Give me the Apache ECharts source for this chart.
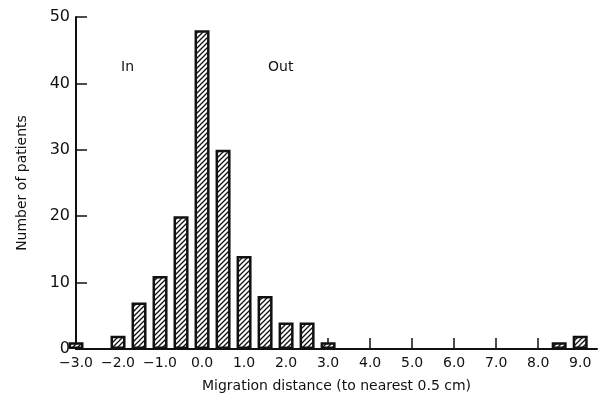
<!DOCTYPE html>
<html lang="en">
<head>
    <meta charset="UTF-8">
    <title>Migration distance</title>
    <script src="https://cdn.jsdelivr.net/npm/echarts@6/dist/echarts.min.js"></script>
    <style>
        body { margin: 0; background: #fff; }
        #chart { width: 607px; height: 407px; }
    </style>
</head>
<body>
    <div id="chart"></div>
    <script>
        // migration distance (cm, nearest 0.5) and number of patients
        const distances = [-3.0, -2.0, -1.5, -1.0, -0.5, 0.0, 0.5, 1.0, 1.5, 2.0, 2.5, 3.0, 8.5, 9.0];
        const patients  = [1, 2, 7, 11, 20, 48, 30, 14, 8, 4, 4, 1, 1, 2];
        const xTicks = [-3, -2, -1, 0, 1, 2, 3, 4, 5, 6, 7, 8, 9];
        const yTicks = [0, 10, 20, 30, 40, 50];

        // diagonal hatch fill
        function hatch() {
            const c = document.createElement('canvas');
            c.width = 5; c.height = 5;
            const ctx = c.getContext('2d');
            ctx.fillStyle = '#fff';
            ctx.fillRect(0, 0, 5, 5);
            ctx.strokeStyle = '#111';
            ctx.lineWidth = 1.3;
            ctx.beginPath();
            ctx.moveTo(-1, 6); ctx.lineTo(6, -1);
            ctx.moveTo(-1, 1); ctx.lineTo(1, -1);
            ctx.moveTo(4, 6); ctx.lineTo(6, 4);
            ctx.stroke();
            return c;
        }

        const font = 'DejaVu Sans';
        const chart = echarts.init(document.getElementById('chart'));
        chart.setOption({
            animation: false,
            grid: { left: 76, right: 10, top: 17, bottom: 58 },
            xAxis: {
                type: 'value', min: -3, max: 9.4,
                name: 'Migration distance (to nearest 0.5 cm)',
                nameLocation: 'middle', nameGap: 30,
                nameTextStyle: { fontFamily: font, fontSize: 14, color: '#111' },
                axisLine: { lineStyle: { color: '#111', width: 2 } },
                axisTick: { inside: true, length: 11, customValues: xTicks, lineStyle: { color: '#111', width: 1.5 } },
                axisLabel: {
                    customValues: xTicks, margin: 7,
                    fontFamily: font, fontSize: 14, color: '#111',
                    formatter: v => v.toFixed(1).replace('-', '\u2212')
                },
                splitLine: { show: false }
            },
            yAxis: {
                type: 'value', min: 0, max: 50,
                name: 'Number of patients',
                nameLocation: 'middle', nameGap: 47,
                nameTextStyle: { fontFamily: font, fontSize: 14, color: '#111' },
                axisLine: { show: true, onZero: false, lineStyle: { color: '#111', width: 2 } },
                axisTick: { show: true, inside: true, length: 11, customValues: yTicks.slice(1), lineStyle: { color: '#111', width: 1.5 } },
                axisLabel: { customValues: yTicks, margin: 6, fontFamily: font, fontSize: 16, color: '#111' },
                splitLine: { show: false }
            },
            graphic: [
                { type: 'text', left: 121, top: 60, style: { text: 'In', font: '14px "DejaVu Sans"', fill: '#111' } },
                { type: 'text', left: 268, top: 60, style: { text: 'Out', font: '14px "DejaVu Sans"', fill: '#111' } }
            ],
            series: [{
                type: 'bar',
                clip: true,
                barWidth: 15,
                data: distances.map((d, i) => [d, patients[i]]),
                itemStyle: {
                    color: { image: hatch(), repeat: 'repeat' },
                    borderColor: '#111',
                    borderWidth: 2.5
                }
            }]
        });
    </script>
</body>
</html>
